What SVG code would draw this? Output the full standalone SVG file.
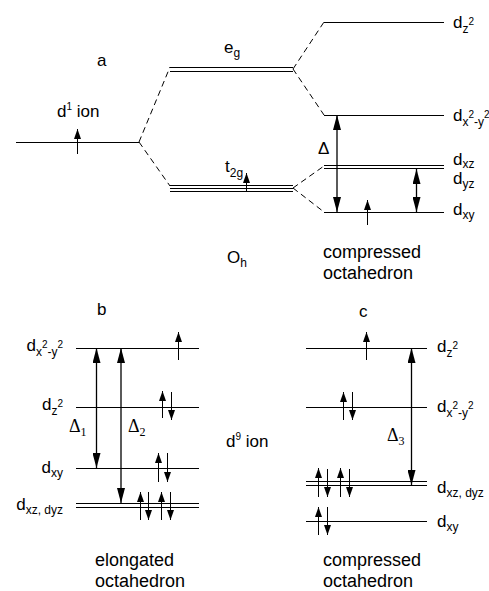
<svg xmlns="http://www.w3.org/2000/svg" width="489" height="591" viewBox="0 0 489 591">
<defs>
<marker id="spin" markerUnits="userSpaceOnUse" markerWidth="10" markerHeight="7" refX="10" refY="3.5" orient="auto-start-reverse"><path d="M0,0 L10,3.5 L0,7 z" fill="#000"/></marker>
<marker id="big" markerUnits="userSpaceOnUse" markerWidth="15" markerHeight="8" refX="15" refY="4" orient="auto-start-reverse"><path d="M0,0 L15,4 L0,8 z" fill="#000"/></marker>
</defs>
<style>
text{font-family:"Liberation Sans",Arial,Helvetica,sans-serif;font-size:17px;fill:#000}
.big{font-size:18px}
.serif{font-family:"Liberation Serif","Times New Roman",serif;font-size:18px}
.sub{font-size:12px}
.sup{font-size:10px}
.lvl{stroke:#000;stroke-width:1;fill:none}
.e{stroke:#000;stroke-width:1;marker-end:url(#spin)}
.dash{stroke:#000;stroke-width:1;stroke-dasharray:6 4;fill:none}
.delta{stroke:#000;stroke-width:1.3;marker-start:url(#big);marker-end:url(#big)}
</style>

<!-- Panel a -->
<g id="label-a"><text x="97" y="66">a</text></g>
<g id="d1-ion">
<line class="lvl" x1="16" y1="142.5" x2="139" y2="142.5"/>
<line class="e" x1="77.5" y1="154" x2="77.5" y2="129"/>
<text x="57" y="117">d<tspan class="sup" dy="-7">1</tspan><tspan dy="7"> ion</tspan></text>
</g>
<g id="eg">
<line class="lvl" x1="170" y1="67.5" x2="293" y2="67.5"/>
<line class="lvl" x1="170" y1="71.5" x2="293" y2="71.5"/>
<text x="224" y="53">e<tspan class="sub" dy="4">g</tspan></text>
</g>
<g id="t2g">
<line class="lvl" x1="170" y1="185.5" x2="293" y2="185.5"/>
<line class="lvl" x1="170" y1="188.5" x2="293" y2="188.5"/>
<line class="lvl" x1="170" y1="191.5" x2="293" y2="191.5"/>
<line class="e" x1="246.5" y1="192" x2="246.5" y2="173"/>
<text x="225" y="172">t<tspan class="sub" dy="5">2g</tspan></text>
</g>
<g id="Oh"><text x="227" y="263">O<tspan class="sub" dy="4">h</tspan></text></g>
<g id="top-dz2">
<line class="lvl" x1="324" y1="22.5" x2="444" y2="22.5"/>
<text x="453" y="28">d<tspan class="sub" dy="5">z</tspan><tspan class="sup" dy="-8">2</tspan></text>
</g>
<g id="top-dx2y2">
<line class="lvl" x1="324" y1="115.5" x2="444" y2="115.5"/>
<text x="453" y="121">d<tspan class="sub" dy="5">x</tspan><tspan class="sup" dy="-8">2</tspan><tspan class="sub" dy="8">-y</tspan><tspan class="sup" dy="-8">2</tspan></text>
</g>
<g id="top-dxz">
<line class="lvl" x1="324" y1="165.5" x2="444" y2="165.5"/>
<text x="453" y="165">d<tspan class="sub" dy="3">xz</tspan></text>
</g>
<g id="top-dyz">
<line class="lvl" x1="324" y1="168.5" x2="444" y2="168.5"/>
<text x="453" y="184">d<tspan class="sub" dy="4">yz</tspan></text>
</g>
<g id="top-dxy">
<line class="lvl" x1="324" y1="212.5" x2="444" y2="212.5"/>
<line class="e" x1="367.5" y1="225" x2="367.5" y2="200"/>
<text x="453" y="215">d<tspan class="sub" dy="4">xy</tspan></text>
</g>
<g id="top-caption"><text class="big" x="323" y="258">compressed</text><text class="big" x="323" y="279">octahedron</text></g>

<!-- Panel b -->
<g id="label-b"><text x="97" y="315">b</text></g>
<g id="b-dx2y2">
<line class="lvl" x1="76" y1="348.5" x2="199" y2="348.5"/>
<line class="e" x1="178.5" y1="360" x2="178.5" y2="332"/>
<text x="63" y="351" text-anchor="end">d<tspan class="sub" dy="5">x</tspan><tspan class="sup" dy="-8">2</tspan><tspan class="sub" dy="8">-y</tspan><tspan class="sup" dy="-8">2</tspan></text>
</g>
<g id="b-dz2">
<line class="lvl" x1="76" y1="407.5" x2="199" y2="407.5"/>
<line class="e" x1="162.5" y1="418" x2="162.5" y2="391"/>
<line class="e" x1="171.5" y1="392" x2="171.5" y2="420"/>
<text x="63" y="410" text-anchor="end">d<tspan class="sub" dy="5">z</tspan><tspan class="sup" dy="-8">2</tspan></text>
</g>
<g id="b-dxy">
<line class="lvl" x1="76" y1="468.5" x2="199" y2="468.5"/>
<line class="e" x1="158.5" y1="482" x2="158.5" y2="453"/>
<line class="e" x1="167.5" y1="453" x2="167.5" y2="482"/>
<text x="63" y="473" text-anchor="end">d<tspan class="sub" dy="4">xy</tspan></text>
</g>
<g id="b-dxz-dyz">
<line class="lvl" x1="76" y1="503.5" x2="199" y2="503.5"/>
<line class="lvl" x1="76" y1="507.5" x2="199" y2="507.5"/>
<line class="e" x1="140.5" y1="520" x2="140.5" y2="492"/>
<line class="e" x1="148.5" y1="492" x2="148.5" y2="520"/>
<line class="e" x1="161.5" y1="520" x2="161.5" y2="492"/>
<line class="e" x1="170.5" y1="492" x2="170.5" y2="520"/>
<text x="63" y="510" text-anchor="end">d<tspan class="sub" dy="4">xz, dyz</tspan></text>
</g>
<g id="d9-ion"><text x="226" y="447">d<tspan class="sup" dy="-7">9</tspan><tspan dy="7"> ion</tspan></text></g>
<g id="b-caption"><text class="big" x="95" y="566">elongated</text><text class="big" x="95" y="587">octahedron</text></g>

<!-- Panel c -->
<g id="label-c"><text x="359" y="317">c</text></g>
<g id="c-dz2">
<line class="lvl" x1="306" y1="348.5" x2="427" y2="348.5"/>
<line class="e" x1="366.5" y1="360" x2="366.5" y2="332"/>
<text x="437" y="352">d<tspan class="sub" dy="5">z</tspan><tspan class="sup" dy="-8">2</tspan></text>
</g>
<g id="c-dx2y2">
<line class="lvl" x1="306" y1="407.5" x2="427" y2="407.5"/>
<line class="e" x1="343.5" y1="420" x2="343.5" y2="392"/>
<line class="e" x1="352.5" y1="392" x2="352.5" y2="420"/>
<text x="437" y="412">d<tspan class="sub" dy="5">x</tspan><tspan class="sup" dy="-8">2</tspan><tspan class="sub" dy="8">-y</tspan><tspan class="sup" dy="-8">2</tspan></text>
</g>
<g id="c-dxz-dyz">
<line class="lvl" x1="306" y1="481.5" x2="427" y2="481.5"/>
<line class="lvl" x1="306" y1="485.5" x2="427" y2="485.5"/>
<line class="e" x1="318.5" y1="497" x2="318.5" y2="468"/>
<line class="e" x1="327.5" y1="469" x2="327.5" y2="497"/>
<line class="e" x1="340.5" y1="497" x2="340.5" y2="468"/>
<line class="e" x1="349.5" y1="469" x2="349.5" y2="497"/>
<text x="437" y="493">d<tspan class="sub" dy="4">xz, dyz</tspan></text>
</g>
<g id="c-dxy">
<line class="lvl" x1="306" y1="521.5" x2="427" y2="521.5"/>
<line class="e" x1="318.5" y1="535" x2="318.5" y2="507"/>
<line class="e" x1="327.5" y1="507" x2="327.5" y2="535"/>
<text x="437" y="527">d<tspan class="sub" dy="4">xy</tspan></text>
</g>
<g id="c-caption"><text class="big" x="323" y="566">compressed</text><text class="big" x="323" y="587">octahedron</text></g>

<!-- Connectors -->
<g id="connectors">
<line class="dash" x1="139" y1="142" x2="170" y2="67"/>
<line class="dash" x1="139" y1="142" x2="170" y2="186"/>
<line class="dash" x1="293" y1="69" x2="324" y2="22"/>
<line class="dash" x1="293" y1="69" x2="324" y2="115"/>
<line class="dash" x1="293" y1="188" x2="324" y2="166"/>
<line class="dash" x1="293" y1="188" x2="324" y2="212"/>
<line class="delta" x1="337" y1="115" x2="337" y2="212"/>
<line class="delta" x1="416.5" y1="169" x2="416.5" y2="212"/>
<line class="delta" x1="96.5" y1="348" x2="96.5" y2="468"/>
<line class="delta" x1="121" y1="348" x2="121" y2="503"/>
<line class="delta" x1="411.5" y1="348" x2="411.5" y2="485"/>
<text x="318" y="154">Δ</text>
<text class="serif" x="69" y="432">Δ<tspan class="sub" dy="4">1</tspan></text>
<text class="serif" x="128" y="432">Δ<tspan class="sub" dy="4">2</tspan></text>
<text class="serif" x="387" y="441">Δ<tspan class="sub" dy="4">3</tspan></text>
</g>
</svg>
